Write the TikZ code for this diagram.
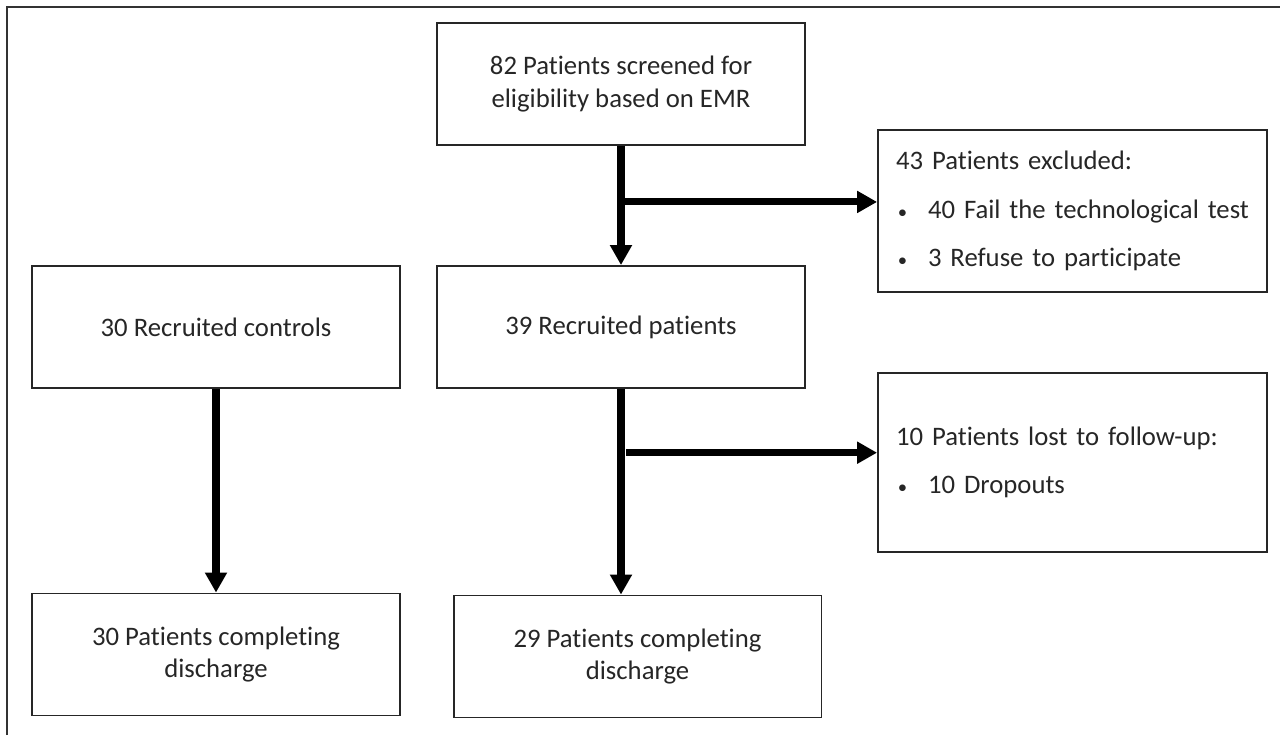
\documentclass[tikz,border=0pt]{standalone}
\usepackage{fontspec}
\setmainfont{Carlito}[Ligatures=NoCommon]
\usepackage{xcolor}
\usepackage{tikz}
\usetikzlibrary{arrows.meta,calc,positioning}

\newcommand{\bul}{\makebox[0.64cm][l]{\hspace{1pt}\scalebox{0.7}{\textbullet}}}

\begin{document}
\begin{tikzpicture}[x=0.02cm,y=-0.02cm,line width=1.1pt,
    box/.style={draw=black!85,line width=1.1pt,minimum width=7.36cm,minimum height=2.44cm,
      align=center,inner sep=0pt,text=black!85,font=\fontsize{15.2}{18.7}\selectfont},
    sidebox/.style={box,minimum width=7.78cm,text width=7.06cm,align=left},
    flow/.style={line width=4pt,-{Triangle[width=0.42cm,length=0.4cm]}}]
    \useasboundingbox (0,0) rectangle (1280,735);
    \draw[black!80] (7,735) -- (7,7) -- (1280,7);
    \node[box] (screen) at (621,84) {82 Patients screened for\\eligibility based on EMR};
    \node[box] (recpat) at (621,327) {39 Recruited patients};
    \node[box] (recctl) at (216,327) {30 Recruited controls};
    \node[box] (compctl) at (216,654.5) {30 Patients completing\\discharge};
    \node[box] (comppat) at (637.5,656.5) {29 Patients completing\\discharge};
    \node[sidebox,minimum height=3.24cm] (excl) at (1072.5,211) {43 Patients excluded:\\[9pt]
      \bul 40 Fail the technological test\\[9pt]
      \bul 3 Refuse to participate};
    \node[sidebox,minimum height=3.58cm] (lost) at (1072.5,462.5) {10 Patients lost to follow-up:\\[9pt]
      \bul 10 Dropouts};
    \coordinate (j1) at ($(screen.south)!0.47!(recpat.north)$);
    \coordinate (j2) at ($(recpat.south)!0.31!(comppat.north)$);
    \draw[flow] (screen.south) -- (recpat.north);
    \draw[flow] (j1) -- (j1 -| excl.west);
    \draw[flow] (recctl.south) -- (compctl.north);
    \draw[flow] (recpat.south) -- (recpat.south |- comppat.north);
    \draw[flow] (j2) -- (j2 -| lost.west);
  \end{tikzpicture}
\end{document}
